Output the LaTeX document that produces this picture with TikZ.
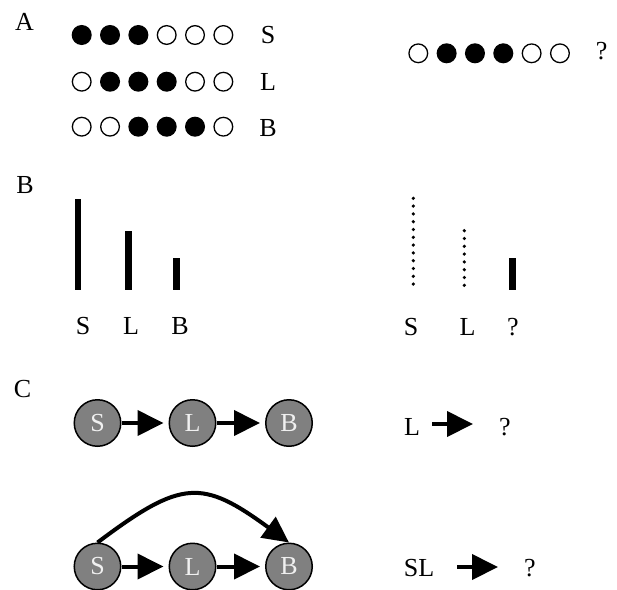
\documentclass[tikz,border=0pt]{standalone}
\usepackage{fontspec}
\setmainfont{Liberation Serif}
\usetikzlibrary{arrows.meta}
\begin{document}
\begin{tikzpicture}[x=1pt,y=-1pt,
  lbl/.style={font=\fontsize{26}{26}\selectfont, inner sep=0pt},
  full/.style={circle, draw=black, fill=black, line width=1.3pt, minimum size=18.7pt, inner sep=0pt},
  hollow/.style={circle, draw=black, fill=white, line width=1.3pt, minimum size=18.7pt, inner sep=0pt},
  bar/.style={line width=6.5pt},
  statenode/.style={circle, draw=black, fill=black!50, line width=1.5pt, minimum size=46.5pt, inner sep=0pt, text=black!6, font=\fontsize{26}{26}\selectfont},
  arr/.style={line width=4pt, -{Triangle[length=26pt,width=25pt]}}
]
\useasboundingbox (0,0) rectangle (617,589);

% ---------------- Panel A ----------------
\node[lbl] (labA) at (24.5,22) {A};
\foreach \v [count=\i from 0] in {1,1,1,0,0,0} {
  \ifnum\v=1 \node[full] (a1\i) at (81.7+28.33*\i,35) {}; \else \node[hollow] (a1\i) at (81.7+28.33*\i,35) {}; \fi
}
\foreach \v [count=\i from 0] in {0,1,1,1,0,0} {
  \ifnum\v=1 \node[full] (a2\i) at (81.7+28.33*\i,81.7) {}; \else \node[hollow] (a2\i) at (81.7+28.33*\i,81.7) {}; \fi
}
\foreach \v [count=\i from 0] in {0,0,1,1,1,0} {
  \ifnum\v=1 \node[full] (a3\i) at (81.7+28.33*\i,126.7) {}; \else \node[hollow] (a3\i) at (81.7+28.33*\i,126.7) {}; \fi
}
\foreach \v [count=\i from 0] in {0,1,1,1,0,0} {
  \ifnum\v=1 \node[full] (a4\i) at (418.3+28.33*\i,53.3) {}; \else \node[hollow] (a4\i) at (418.3+28.33*\i,53.3) {}; \fi
}
\node[lbl] (aS) at (268,35) {S};
\node[lbl] (aL) at (268,82) {L};
\node[lbl] (aB) at (268,128) {B};
\node[lbl] (aQ) at (601.7,51) {?};

% ---------------- Panel B ----------------
\node[lbl] (labB) at (25,185) {B};
\draw[bar] (78,199.3) -- (78,290);
\draw[bar] (128.3,231) -- (128.3,290);
\draw[bar] (176.3,258.3) -- (176.3,290);
\node[lbl] (bS) at (83,326) {S};
\node[lbl] (bL) at (131,326) {L};
\node[lbl] (bB) at (180,326) {B};

\foreach \k in {0,...,11} \fill (413.3,198.3+7.8*\k) circle[radius=1.8pt];
\foreach \k in {0,...,7} \fill (464.3,230.7+7.8*\k) circle[radius=1.8pt];
\draw[bar] (512.3,258.3) -- (512.3,290);
\node[lbl] (bS2) at (411,327) {S};
\node[lbl] (bL2) at (467.5,327) {L};
\node[lbl] (bQ2) at (513,327) {?};

% ---------------- Panel C ----------------
\node[lbl] (labC) at (22.5,389.5) {C};
\node[statenode] (S1) at (97.5,423) {S};
\node[statenode] (L1) at (192.5,423) {L};
\node[statenode] (B1) at (289,423) {B};
\draw[arr, shorten >=5pt] (S1) -- (L1);
\draw[arr, shorten >=5pt] (L1) -- (B1);

\node[statenode] (S2) at (97.5,566.5) {S};
\node[statenode] (L2) at (192.5,566.5) {L};
\node[statenode] (B2) at (289,566.5) {B};
\draw[arr, shorten >=5pt] (S2) -- (L2);
\draw[arr, shorten >=5pt] (L2) -- (B2);
\draw[arr] (S2.north) .. controls (182,479) and (202,479) .. (B2.north);

\node[lbl] (cL) at (412,427) {L};
\coordinate (cl1) at (432,424);
\coordinate (cl2) at (473,424);
\draw[arr] (cl1) -- (cl2);
\node[lbl] (cQ1) at (505,427) {?};

\node[lbl] (cSL) at (419,568) {SL};
\coordinate (cs1) at (457,567);
\coordinate (cs2) at (498,567);
\draw[arr] (cs1) -- (cs2);
\node[lbl] (cQ2) at (530,568) {?};
\end{tikzpicture}
\end{document}
